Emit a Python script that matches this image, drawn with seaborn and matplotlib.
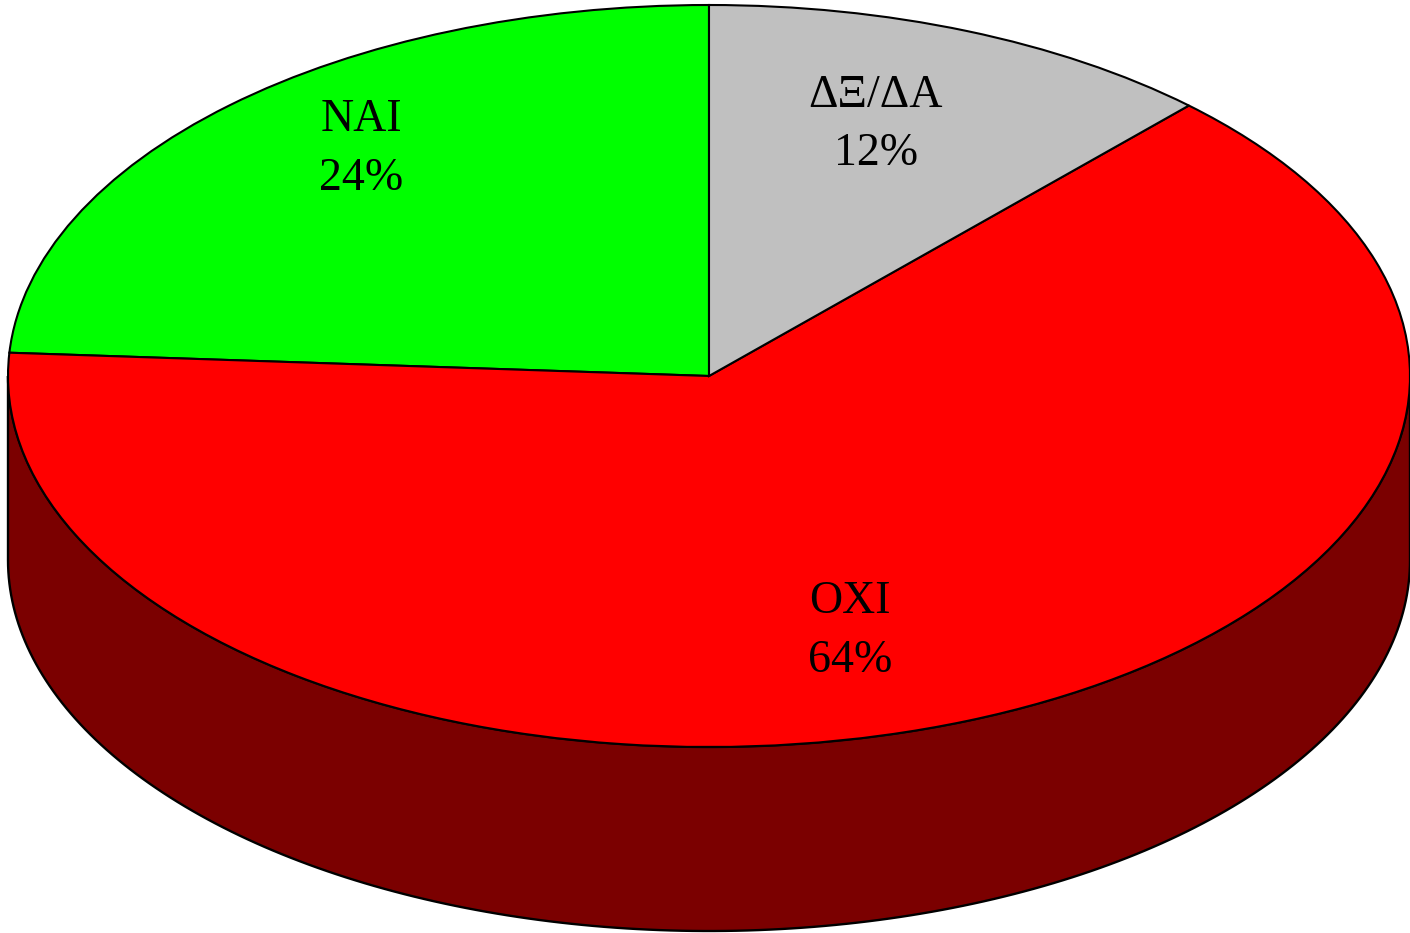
import numpy as np
import matplotlib.pyplot as plt
import seaborn as sns

answers = ["ΝΑΙ", "ΟΧΙ", "ΔΞ/ΔΑ"]
shares = [24, 64, 12]
top_colors = ["#00ff00", "#ff0000", "#c0c0c0"]
side_colors = ["#007a00", "#7b0000", "#606060"]

sns.set_style("white")
plt.rcParams['font.family'] = ['Liberation Serif', 'DejaVu Serif']

fig = plt.figure(figsize=(14.1, 9.33), dpi=100)
ax = fig.add_axes([0, 0, 1, 1])

depth = 0.496
start = 90

# side wall of the 3d pie (only the front half is visible)
bounds = start + np.cumsum([0] + shares) * 3.6
for i in range(len(shares)):
    a0, a1 = bounds[i], bounds[i + 1]
    for shift in (0, 360, -360):
        lo = max(a0 + shift, 180)
        hi = min(a1 + shift, 360)
        if hi <= lo:
            continue
        t = np.radians(np.linspace(lo, hi, 200))
        xs = np.concatenate([np.cos(t), np.cos(t[::-1])])
        ys = np.concatenate([np.sin(t), np.sin(t[::-1]) - depth])
        ax.fill(xs, ys, color=side_colors[i], ec="black", lw=1.7, zorder=1)

wedges, _ = ax.pie(shares, colors=top_colors, startangle=start, counterclock=True,
                   radius=1, wedgeprops=dict(edgecolor="black", linewidth=1.5))
for w in wedges:
    w.set_zorder(2)

label_xy = [(-0.496, 0.612), (0.201, -0.687), (0.238, 0.677)]
for lab, v, (x, y) in zip(answers, shares, label_xy):
    ax.text(x, y, f"{lab}\n{v}%", ha="center", va="center", fontsize=33,
            linespacing=1.5, color="black", zorder=3)

ax.set_aspect("auto")
ax.set_xlim(-709 / 701, 701 / 701)
ax.set_ylim(-(933 - 376) / 371, 376 / 371)
ax.axis("off")

fig.savefig("out.png", dpi=100, facecolor="white")
